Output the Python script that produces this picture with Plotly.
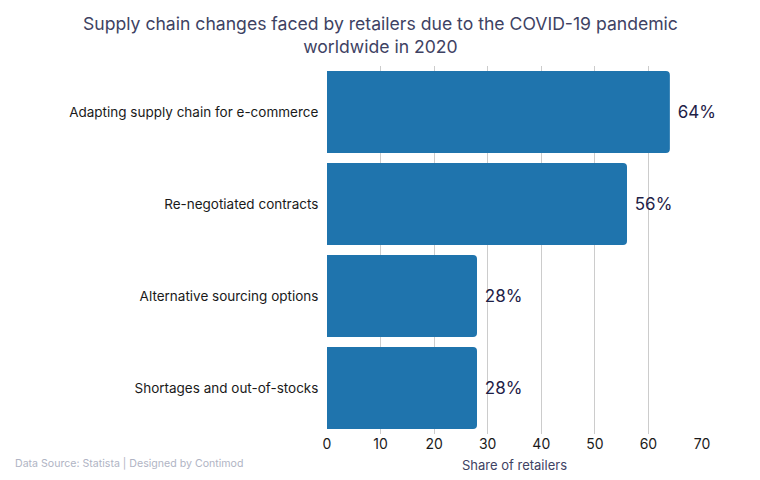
import plotly.graph_objects as go

categories = ["Adapting supply chain for e-commerce", "Re-negotiated contracts",
              "Alternative sourcing options", "Shortages and out-of-stocks"]
values = [64, 56, 28, 28]
labels = [f" {v}%" for v in values]

title_text = ("Supply chain changes faced by retailers due to the COVID-19 pandemic"
              "<br>worldwide in 2020")

fig = go.Figure(go.Bar(
    y=categories, x=values, orientation="h",
    marker=dict(color="#1f74ad", line=dict(width=0)),
    text=labels, textposition="outside",
    textfont=dict(family="Inter", size=17, color="#1e2147"),
    cliponaxis=False,
))
fig.update_layout(
    width=752, height=472,
    margin=dict(l=319, r=58, t=58, b=46, autoexpand=False),
    paper_bgcolor="white", plot_bgcolor="white",
    barcornerradius=4,
    bargap=0.109,
    font=dict(family="Inter", color="#1a1a1a"),
    showlegend=False,
)
fig.update_xaxes(range=[0, 70], dtick=10, showgrid=True, gridcolor="#cccccc", gridwidth=1,
                 zeroline=False, showline=False, automargin=False,
                 tickfont=dict(family="Inter", size=14, color="#1a1a1a"),
                 title=dict(text="Share of retailers", font=dict(family="Inter", size=13, color="#3e4263"), standoff=9))
fig.update_yaxes(autorange="reversed", showgrid=False, showline=False, ticks="", automargin=False,
                 ticksuffix="  ",
                 tickfont=dict(family="Inter", size=13.5, color="#1a1a1a"))
fig.add_annotation(text=title_text, xref="paper", yref="paper",
                   x=(380 - 327) / 375, xanchor="center", y=1 + (58 - 3) / 368, yanchor="top",
                   showarrow=False, align="center",
                   font=dict(family="Inter", size=17.6, color="#3e4263"))
fig.add_annotation(text="Data Source: Statista | Designed by Contimod", xref="paper", yref="paper",
                   x=-0.837, xanchor="left", y=-0.0815, yanchor="middle", showarrow=False,
                   font=dict(family="Inter", size=10.6, color="#b0b4c4"))
fig.write_html("out.html")
